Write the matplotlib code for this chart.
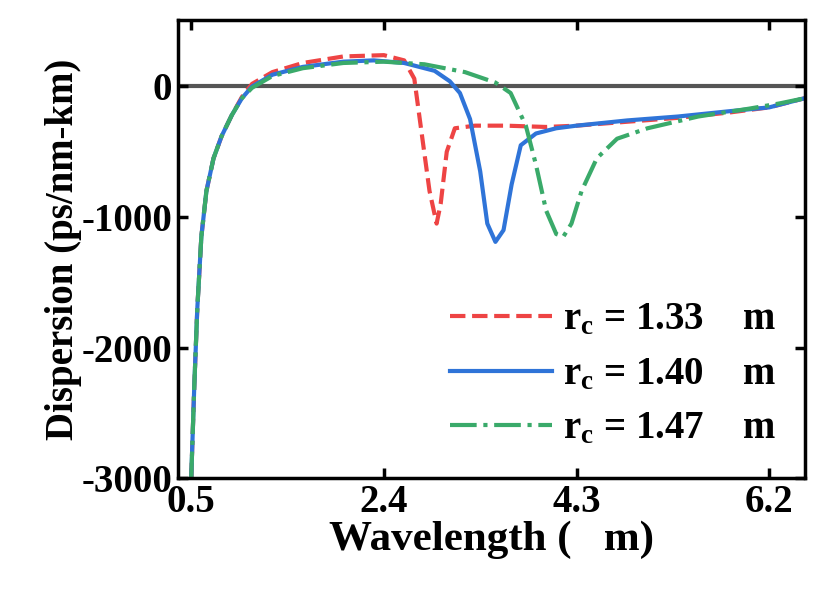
import matplotlib
matplotlib.use("Agg")
import matplotlib.pyplot as plt

wl_red = [0.5,0.53,0.56,0.6,0.65,0.72,0.8,0.9,1.0,1.1,1.3,1.6,2.0,2.4,2.6,2.7,2.78,2.85,2.92,2.96,3.02,3.1,3.3,3.6,4.0,4.3,4.8,5.3,5.8,6.2,6.55]
d_red = [-3000,-2300,-1700,-1150,-800,-550,-380,-220,-80,20,110,180,230,240,200,60,-400,-800,-1050,-900,-500,-320,-300,-300,-310,-300,-270,-240,-200,-160,-90]
wl_blue = [0.5,0.53,0.56,0.6,0.65,0.72,0.8,0.9,1.0,1.1,1.3,1.6,2.0,2.3,2.6,2.9,3.05,3.15,3.25,3.35,3.42,3.5,3.58,3.66,3.75,3.9,4.1,4.3,4.8,5.3,5.8,6.2,6.55]
d_blue = [-3000,-2300,-1700,-1150,-800,-550,-380,-220,-90,0,90,150,190,200,180,120,40,-50,-250,-650,-1050,-1190,-1100,-750,-450,-360,-320,-300,-260,-230,-190,-160,-90]
wl_green = [0.5,0.53,0.56,0.6,0.65,0.72,0.8,0.9,1.0,1.1,1.3,1.6,2.0,2.4,2.8,3.2,3.5,3.65,3.8,3.9,4.0,4.1,4.17,4.25,4.35,4.5,4.7,5.0,5.5,6.0,6.3,6.55]
d_green = [-3000,-2300,-1700,-1150,-800,-550,-380,-220,-90,-10,80,140,180,190,170,110,30,-50,-300,-600,-950,-1130,-1150,-1050,-800,-550,-400,-320,-230,-170,-130,-90]
labels = [r"$\mathbf{r_c}$ = 1.33    m", r"$\mathbf{r_c}$ = 1.40    m", r"$\mathbf{r_c}$ = 1.47    m"]
xticks = [0.5, 2.4, 4.3, 6.2]
yticks = [-3000, -2000, -1000, 0]

plt.rcParams["font.family"] = "Liberation Serif"
plt.rcParams["font.weight"] = "bold"
plt.rcParams["mathtext.fontset"] = "custom"
plt.rcParams["mathtext.bf"] = "Liberation Serif:bold"
plt.rcParams["mathtext.rm"] = "Liberation Serif:bold"

fig = plt.figure(figsize=(8.3, 6.03), dpi=100)
ax = fig.add_axes([0.2145, 0.207, 0.755, 0.76])
ax.axhline(0, color="#555555", lw=3, zorder=1)
ax.plot(wl_red, d_red, "--", color="#ee4444", lw=3, label=labels[0])
ax.plot(wl_blue, d_blue, "-", color="#2f74d8", lw=3, label=labels[1])
ax.plot(wl_green, d_green, "-.", color="#3aaa6a", lw=3, label=labels[2])
ax.set_xlim(0.37, 6.55)
ax.set_ylim(-3000, 510)
ax.set_xticks(xticks)
ax.set_xticklabels([str(t) for t in xticks])
ax.set_yticks(yticks)
ax.set_yticklabels([str(t) for t in yticks])
ax.tick_params(labelsize=28, width=2.5, length=7, direction="in", top=True, right=True, pad=4)
for s in ax.spines.values():
    s.set_linewidth(2.5)
ax.set_xlabel("Wavelength (   m)", fontsize=31, fontweight="bold", labelpad=0)
ax.set_ylabel("Dispersion (ps/nm-km)", fontsize=28, fontweight="bold", labelpad=0)
ax.legend(loc="lower right", bbox_to_anchor=(1.01, -0.01), frameon=False, fontsize=28,
          handlelength=2.6, handletextpad=0.3, labelspacing=0.45)
fig.savefig("out.png", dpi=100)
